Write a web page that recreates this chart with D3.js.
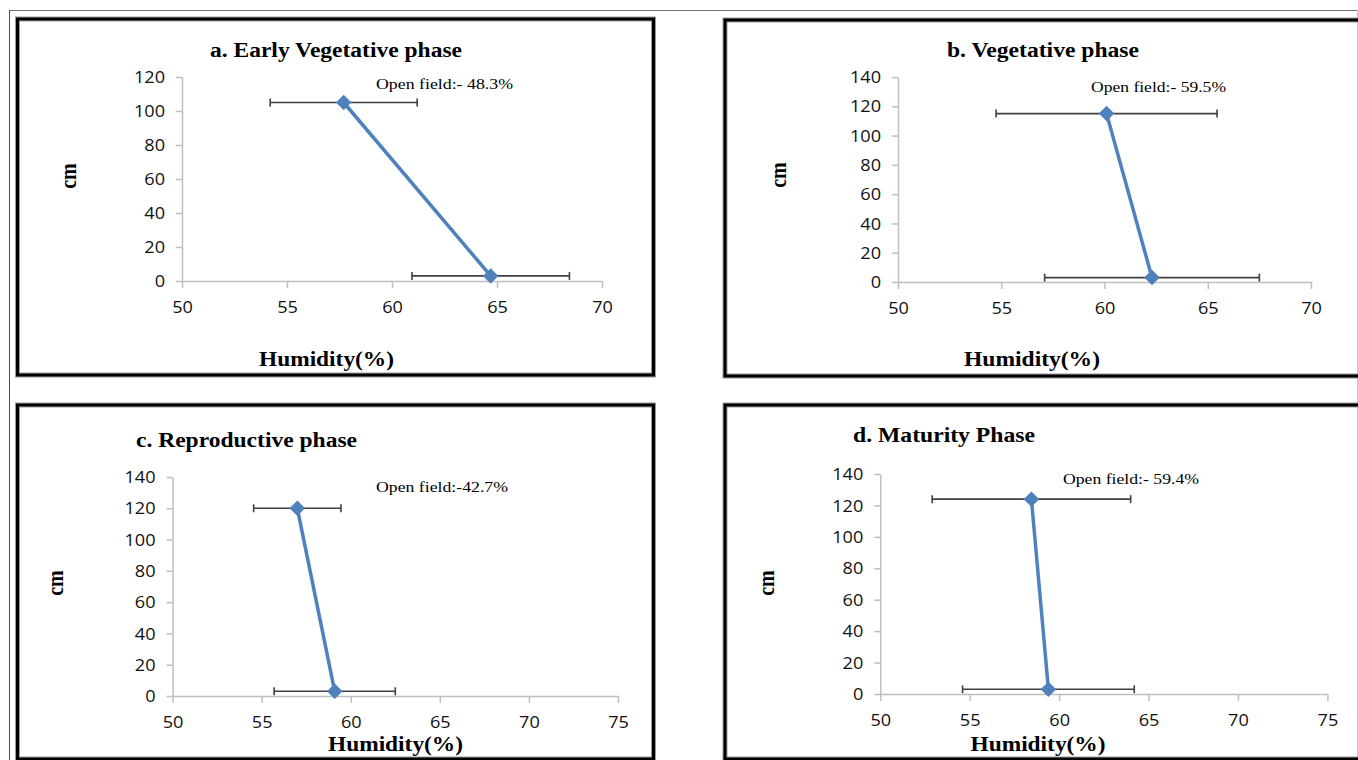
<!DOCTYPE html>
<html>
<head>
<meta charset="utf-8">
<script src="https://cdn.jsdelivr.net/npm/d3@7"></script>
<style>
  html, body { margin: 0; padding: 0; background: #fff; }
  svg { display: block; }
</style>
</head>
<body>
<svg id="chart" width="1358" height="760"></svg>
<script>
// ---------- data ----------
const titles = ["a. Early Vegetative phase", "b. Vegetative phase", "c. Reproductive phase", "d. Maturity Phase"];
const openField = ["Open field:- 48.3%", "Open field:- 59.5%", "Open field:-42.7%", "Open field:- 59.4%"];
const humidityA = [57.7, 64.7];
const humidityB = [60.1, 62.3];
const humidityC = [57.0, 59.1];
const humidityD = [58.45, 59.4];
const heightA = [105, 3];
const heightB = [115, 3];
const heightC = [120, 3];
const heightD = [124, 3];
const errA = [3.5, 3.75];
const errB = [5.35, 5.2];
const errC = [2.45, 3.4];
const errD = [5.55, 4.8];
const xMaxes = [70, 70, 75, 75];
const yMaxes = [120, 140, 140, 140];
const xTickStep = 5;
const yTickStep = 20;
const xAxisLabel = "Humidity(%)";
const yAxisLabel = "cm";

const humidity = [humidityA, humidityB, humidityC, humidityD];
const heights = [heightA, heightB, heightC, heightD];
const errs = [errA, errB, errC, errD];

// ---------- layout ----------
const layout = [
  { box: [17.5, 19, 636, 356], xr: [182, 602], yr: [281, 77],
    title: [210, 57, 252], xl: [259, 366, 135], yl: [69, 176], note: [376, 89, 137] },
  { box: [725, 20, 700, 356], xr: [898, 1311], yr: [282, 77],
    title: [947, 57, 192], xl: [964, 366, 136], yl: [779, 175], note: [1091, 92, 135] },
  { box: [17.5, 405, 636, 354], xr: [172.6, 618], yr: [696, 477],
    title: [136, 447, 221], xl: [328, 751, 135], yl: [56, 583], note: [376, 492, 132] },
  { box: [725, 405, 700, 354], xr: [880.3, 1327.4], yr: [694, 474],
    title: [853, 442, 182], xl: [970.5, 751, 135], yl: [767, 583], note: [1063, 484, 136] }
];

const svg = d3.select("#chart");
const STRETCH = 1.17;
const serif = "'Liberation Serif', 'Times New Roman', serif";
const sans = "'Open Sans', 'Liberation Sans', sans-serif";

// page frame
svg.append("line").attr("x1", 9).attr("x2", 1358).attr("y1", 10.5).attr("y2", 10.5)
  .attr("stroke", "#707070").attr("stroke-width", 1);
svg.append("line").attr("x1", 9.5).attr("x2", 9.5).attr("y1", 10).attr("y2", 760)
  .attr("stroke", "#505050").attr("stroke-width", 1);
svg.append("line").attr("x1", 1357.5).attr("x2", 1357.5).attr("y1", 10).attr("y2", 760)
  .attr("stroke", "#c8c8c8").attr("stroke-width", 1);

function fit(sel, w) {
  sel.attr("textLength", w).attr("lengthAdjust", "spacingAndGlyphs");
}

layout.forEach((L, i) => {
  const g = svg.append("g");
  // panel box
  g.append("rect").attr("x", L.box[0]).attr("y", L.box[1]).attr("width", L.box[2]).attr("height", L.box[3])
    .attr("fill", "none").attr("stroke", "#9a9a9a").attr("stroke-width", 5);
  g.append("rect").attr("x", L.box[0]).attr("y", L.box[1]).attr("width", L.box[2]).attr("height", L.box[3])
    .attr("fill", "none").attr("stroke", "#000").attr("stroke-width", 3);

  const x = d3.scaleLinear().domain([50, xMaxes[i]]).range(L.xr);
  const y = d3.scaleLinear().domain([0, yMaxes[i]]).range(L.yr);

  const xt = d3.range(50, xMaxes[i] + 0.001, xTickStep);
  const yt = d3.range(0, yMaxes[i] + 0.001, yTickStep);

  const xAxis = g.append("g").attr("transform", `translate(0,${L.yr[0]})`)
    .call(d3.axisBottom(x).tickValues(xt).tickFormat(d3.format("d")).tickSizeInner(7).tickSizeOuter(0));
  const yAxis = g.append("g").attr("transform", `translate(${L.xr[0]},0)`)
    .call(d3.axisLeft(y).tickValues(yt).tickFormat(d3.format("d")).tickSizeInner(6).tickSizeOuter(0));
  [xAxis, yAxis].forEach(a => {
    a.select(".domain").attr("stroke", "#bfbfbf").attr("stroke-width", 1.5);
    a.selectAll(".tick line").attr("stroke", "#bfbfbf").attr("stroke-width", 1.5);
    a.selectAll(".tick text").attr("fill", "#111").style("font-family", sans).style("font-size", "15.5px");
  });
  xAxis.selectAll(".tick text").attr("y", 0).attr("dy", 0)
    .attr("transform", `translate(0,32) scale(${STRETCH},1)`);
  yAxis.selectAll(".tick text").attr("x", 0).attr("dy", "0.36em")
    .attr("transform", `translate(-17,0) scale(${STRETCH},1)`);

  // error bars
  const pts = humidity[i].map((h, k) => ({ x: h, y: heights[i][k], e: errs[i][k] }));
  const eb = g.append("g").attr("stroke", "#404040").attr("stroke-width", 1.6);
  pts.forEach(p => {
    eb.append("line").attr("x1", x(p.x - p.e)).attr("x2", x(p.x + p.e)).attr("y1", y(p.y)).attr("y2", y(p.y));
    [p.x - p.e, p.x + p.e].forEach(v => {
      eb.append("line").attr("x1", x(v)).attr("x2", x(v)).attr("y1", y(p.y) - 4).attr("y2", y(p.y) + 4);
    });
  });

  // line
  g.append("path").datum(pts)
    .attr("d", d3.line().x(d => x(d.x)).y(d => y(d.y)))
    .attr("fill", "none").attr("stroke", "#4f81bd").attr("stroke-width", 3.5);

  // markers
  g.selectAll(".mk").data(pts).join("path")
    .attr("d", d3.symbol().type(d3.symbolSquare).size(120))
    .attr("transform", d => `translate(${x(d.x)},${y(d.y)}) rotate(45)`)
    .attr("fill", "#4f81bd");

  // title
  g.append("text").attr("x", L.title[0]).attr("y", L.title[1]).text(titles[i])
    .style("font-family", serif).style("font-weight", "bold").style("font-size", "20px")
    .call(fit, L.title[2]);
  // x axis label
  g.append("text").attr("x", L.xl[0]).attr("y", L.xl[1]).text(xAxisLabel)
    .style("font-family", serif).style("font-weight", "bold").style("font-size", "20px")
    .call(fit, L.xl[2]);
  // y axis label
  g.append("text").text(yAxisLabel)
    .attr("transform", `translate(${L.yl[0]},${L.yl[1]}) scale(${STRETCH},1) rotate(-90)`)
    .attr("text-anchor", "middle").attr("dy", "0.3em")
    .style("font-family", serif).style("font-weight", "bold").style("font-size", "20px");
  // note
  g.append("text").attr("x", L.note[0]).attr("y", L.note[1]).text(openField[i])
    .style("font-family", serif).style("font-size", "15px")
    .call(fit, L.note[2]);
});
</script>
</body>
</html>
